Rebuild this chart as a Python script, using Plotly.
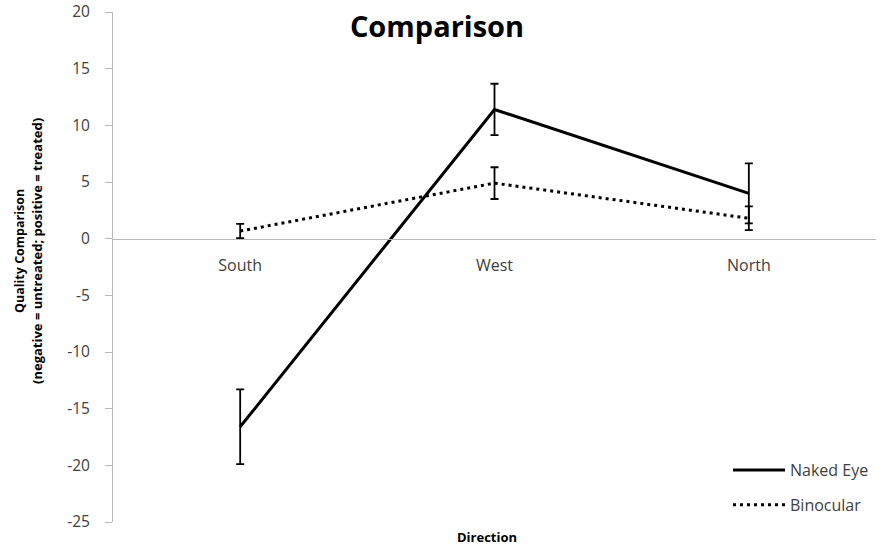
import plotly.graph_objects as go

categories = ["South", "West", "North"]
naked_eye = [-16.6, 11.4, 4.0]
naked_eye_err = [3.3, 2.27, 2.65]
binocular = [0.67, 4.9, 1.8]
binocular_err = [0.63, 1.4, 1.05]
y_ticks = [20, 15, 10, 5, 0, -5, -10, -15, -20, -25]
y_tick_labels = ["20", "15", "10", "5", "0", "-5", "-10", "-15", "-20", "-25"]

FONT = "Open Sans"
W, H = 882, 552
L, R, T, B = 113, 6, 12, 30
PW, PH = W - L - R, H - T - B


def px_x(px):
    return (px - L) / PW


def px_y(py):
    return (H - B - py) / PH


fig = go.Figure()
fig.add_trace(go.Scatter(
    x=categories, y=naked_eye, name="Naked Eye", mode="lines",
    line=dict(color="black", width=3),
    error_y=dict(type="data", array=naked_eye_err, visible=True, color="black", thickness=1.8, width=4),
    legendgroup="a",
))
fig.add_trace(go.Scatter(
    x=categories, y=binocular, name="Binocular", mode="lines",
    line=dict(color="black", width=3, dash="3px,4px"),
    error_y=dict(type="data", array=binocular_err, visible=True, color="black", thickness=1.8, width=4),
    legendgroup="b",
))

fig.update_layout(
    width=W, height=H,
    margin=dict(l=L, r=R, t=T, b=B, autoexpand=False),
    plot_bgcolor="white", paper_bgcolor="white",
    font=dict(family=FONT, size=15, color="#404040"),
    title=dict(text="<b>Comparison</b>", x=437 / W, xanchor="center", y=0.951, yanchor="middle",
               font=dict(family=FONT, size=29, color="black")),
    showlegend=True,
    legend=dict(x=px_x(728), y=px_y(453), xanchor="left", yanchor="top",
                traceorder="grouped", itemwidth=52,
                tracegroupgap=11, font=dict(size=16, color="#404040"), bgcolor="rgba(0,0,0,0)"),
    xaxis=dict(
        type="category", range=[-0.5, 2.5], anchor="free", position=25 / 45,
        showline=True, linecolor="#b8b8b8", linewidth=1, ticks="", showgrid=False,
        zeroline=False, tickfont=dict(size=16, color="#404040"), ticklabelstandoff=12,
        automargin=False,
    ),
    yaxis=dict(
        range=[-25, 20], tickvals=y_ticks, ticktext=y_tick_labels, showline=True,
        linecolor="#b8b8b8", linewidth=1,
        ticks="outside", ticklen=7, tickcolor="#b8b8b8", showgrid=False, zeroline=False,
        tickfont=dict(size=15.5, color="#404040"), ticklabelstandoff=12, automargin=False,
    ),
)
fig.add_annotation(text="<b>Quality Comparison</b>", x=px_x(19), xref="paper", y=px_y(251),
                   yref="paper", xanchor="center", yanchor="middle", textangle=-90,
                   showarrow=False, font=dict(size=12.5, color="black"))
fig.add_annotation(text="<b>(negative = untreated; positive = treated)</b>", x=px_x(37),
                   xref="paper", y=px_y(251), yref="paper", xanchor="center", yanchor="middle",
                   textangle=-90, showarrow=False, font=dict(size=13, color="black"))
fig.add_annotation(text="<b>Direction</b>", x=px_x(487), xref="paper", y=px_y(537),
                   yref="paper", xanchor="center", yanchor="middle", showarrow=False,
                   font=dict(size=13, color="black"))

fig.write_html("out.html", config={"displayModeBar": False},
               post_script="document.body.style.margin='0px';")
